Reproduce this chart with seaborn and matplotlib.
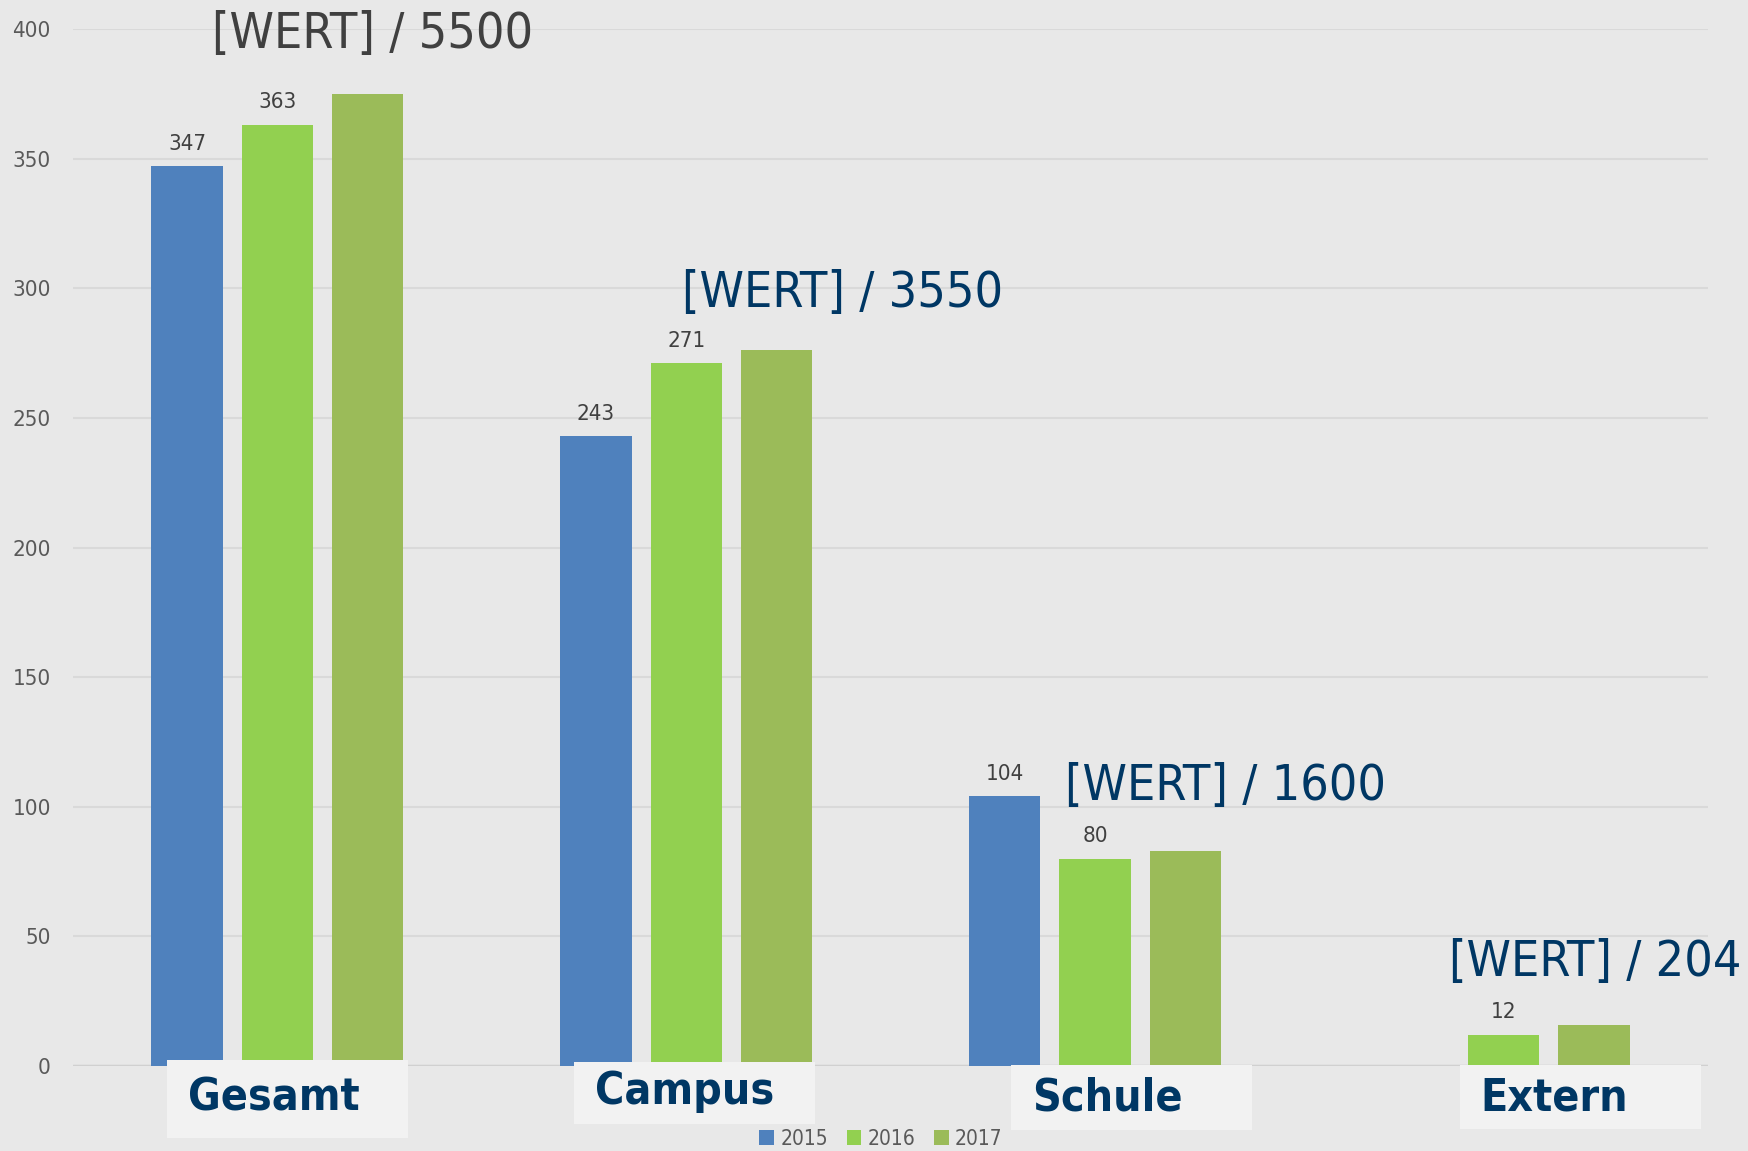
import numpy as np
import pandas as pd
import matplotlib.pyplot as plt
import seaborn as sns
from matplotlib.patches import Rectangle

# data
categories = ['Gesamt', 'Campus', 'Schule', 'Extern']
years = ['2015', '2016', '2017']
v2015 = [347, 243, 104, np.nan]
v2016 = [363, 271, 80, 12]
v2017 = [375, 276, 83, 16]
targets = [5500, 3550, 1600, 204]

df = pd.DataFrame({
    'Bereich': categories * 3,
    'Jahr': ['2015'] * 4 + ['2016'] * 4 + ['2017'] * 4,
    'Anzahl': v2015 + v2016 + v2017,
})

colors = {'2015': '#4f81bd', '2016': '#92d050', '2017': '#9bbb59'}
bg = '#e8e8e8'
navy = '#003764'

sns.set_style('white')
plt.rcParams['font.family'] = ['DejaVu Sans']
plt.rcParams['font.stretch'] = 'condensed'

fig = plt.figure(figsize=(17.48, 11.51), dpi=100, facecolor=bg)
ax = fig.add_axes([0.0418, 0.0738, 0.9354, 0.901])
ax.set_facecolor(bg)

sns.barplot(data=df, x='Bereich', y='Anzahl', hue='Jahr', order=categories,
            hue_order=years, palette=colors, width=0.663, gap=0.21,
            saturation=1, edgecolor='none', ax=ax, legend=True, zorder=3)

ax.set_xlim(-0.5, 3.5)
ax.set_ylim(0, 400)
ax.set_yticks(range(0, 401, 50))
ax.yaxis.grid(True, color='#d9d9d9', linewidth=1.5, zorder=0)
ax.axhline(0, color='#d0d0d0', linewidth=2.5, zorder=2)
ax.set_axisbelow(True)
for s in ax.spines.values():
    s.set_visible(False)
ax.tick_params(axis='y', length=0, pad=16, labelsize=16, labelcolor='#595959')
ax.set_xticks([])
ax.set_xlabel('')
ax.set_ylabel('')

# value labels on 2015 and 2016 only
for cont in ax.containers[:2]:
    ax.bar_label(cont, fmt='%d', padding=9, fontsize=16, color='#404040')

# target labels
lab_pos = [(-0.16, 398), (0.99, 298), (1.927, 108), (2.866, 40)]
lab_col = ['#404040', navy, navy, navy]
for t, (lx, ly), c in zip(targets, lab_pos, lab_col):
    ax.text(lx, ly, f'[WERT] / {t}', fontsize=36, color=c, ha='left',
            va='center', clip_on=False, zorder=6)

# category boxes below the bars
box_pos = [(-0.27, -27.8, 30.1, -12.3), (0.726, -22.4, 23.9, -10.0),
           (1.795, -24.7, 25.1, -12.3), (2.893, -24.3, 24.7, -12.3)]
for name, (bx, by, bh, ty) in zip(categories, box_pos):
    ax.add_patch(Rectangle((bx, by), 0.59, bh, facecolor='#f2f2f2',
                           edgecolor='none', clip_on=False, zorder=5))
    ax.text(bx + 0.05, ty, name, fontsize=32, fontweight='bold', color=navy,
            ha='left', va='center', clip_on=False, zorder=6)

leg = ax.legend(loc='center', bbox_to_anchor=(0.504, 0.0104),
                bbox_transform=fig.transFigure, ncol=3, frameon=False,
                fontsize=15, handlelength=0.7, handleheight=0.7,
                handletextpad=0.3, columnspacing=0.9, borderpad=0)
for t in leg.get_texts():
    t.set_color('#595959')

fig.savefig('out.png', dpi=100, facecolor=bg)
